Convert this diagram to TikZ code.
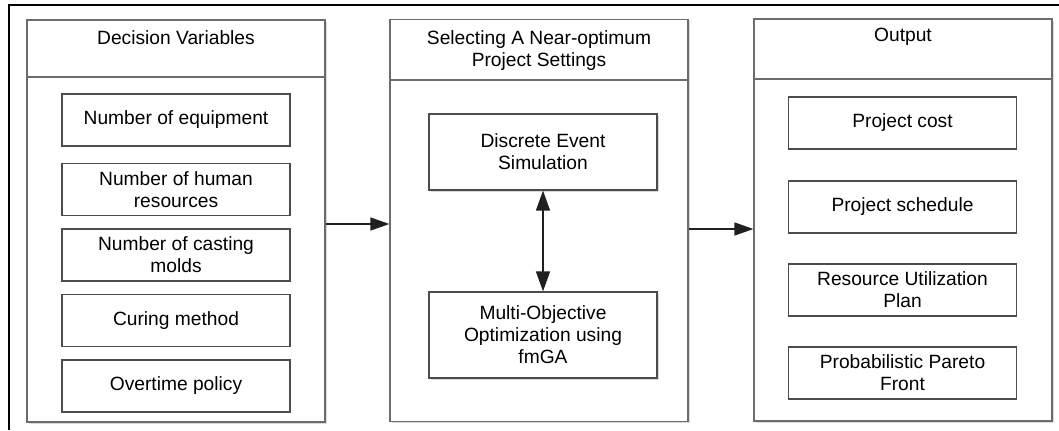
\documentclass[tikz,border=0pt]{standalone}
\usepackage{fontspec}
\setmainfont{Liberation Sans}
\usetikzlibrary{arrows.meta,shadows}
\begin{document}
\begin{tikzpicture}[x=0.5pt,y=-0.5pt,
        font=\fontsize{9.6}{11}\selectfont,
        panel/.style={draw=gray!85!black, line width=0.6pt, fill=white,
            minimum width=149pt, minimum height=201pt,
            drop shadow={shadow xshift=0.8pt, shadow yshift=-0.8pt, fill=gray!30, opacity=1}},
        item/.style={draw=gray!60!black, line width=0.6pt, fill=white, align=center,
            minimum width=114pt, minimum height=26pt, inner sep=1pt},
        simbox/.style={item, minimum height=38pt,
            drop shadow={shadow xshift=1pt, shadow yshift=-1pt, fill=gray!30, opacity=1}},
        flow/.style={draw=gray!25!black, line width=0.7pt, -{Triangle[length=9.5pt,width=6.5pt]}}]
        \useasboundingbox (0,0) rectangle (1059,430);
        \draw [line width=0.7pt] (9,430) -- (9,5) -- (1059,5);
        \node [panel] (vars) at (176,221) {};
        \node [panel] (sel) at (539,220.5) {};
        \node [panel] (out) at (903,220) {};
        \draw [draw=gray!85!black, line width=0.6pt] (27,77) -- (325,77);
        \draw [draw=gray!85!black, line width=0.6pt] (390,80) -- (688,80);
        \draw [draw=gray!85!black, line width=0.6pt] (754,79) -- (1052,79);
        \node (varstitle) at (176,38) {Decision Variables};
        \node [align=center] (seltitle) at (539,51) {Selecting A Near-optimum\\Project Settings};
        \node (outtitle) at (903,37) {Output};
        \node [item] (equip) at (176,120) {Number of equipment};
        \node [item] (human) at (176,189.5) {Number of human\\resources};
        \node [item] (molds) at (176,255) {Number of casting\\molds};
        \node [item] (curing) at (176,320.5) {Curing method};
        \node [item] (overtime) at (176,386) {Overtime policy};
        \node [simbox] (des) at (543,152) {Discrete Event\\Simulation};
        \node [simbox, minimum height=43pt] (moo) at (543,335) {Multi-Objective\\Optimization using\\fmGA};
        \node [item] (cost) at (902.5,123) {Project cost};
        \node [item] (sched) at (902.5,207) {Project schedule};
        \node [item] (plan) at (902.5,290) {Resource Utilization\\Plan};
        \node [item] (pareto) at (902.5,373) {Probabilistic Pareto\\Front};
        \draw [flow, {Triangle[length=10pt,width=7pt]}-{Triangle[length=10pt,width=7pt]}] (des.south) -- (moo.north);
        \draw [flow] ([yshift=-1.5pt]vars.east) -- ([yshift=-1.5pt]vars.east -| sel.west);
        \draw [flow] ([yshift=-4.25pt]sel.east) -- ([yshift=-4.25pt]sel.east -| out.west);
    \end{tikzpicture}
\end{document}
